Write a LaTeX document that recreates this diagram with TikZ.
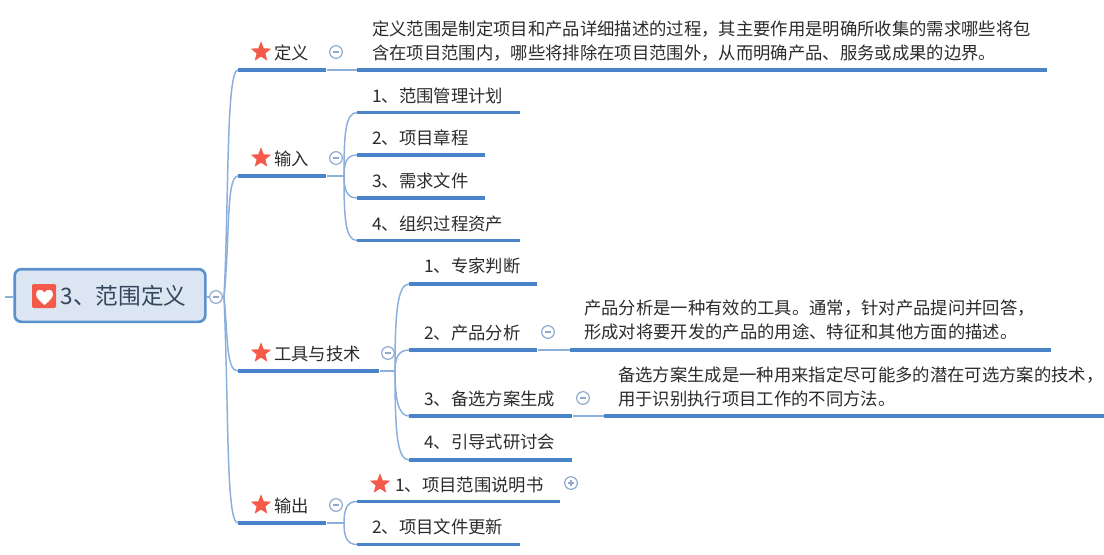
\documentclass[tikz,border=0pt]{standalone}
\usepackage{fontspec}
\setmainfont{Noto Sans CJK SC}
\usepackage{tikz}
\usetikzlibrary{shapes.geometric}
\definecolor{barblue}{HTML}{4A84C8}
\definecolor{linkblue}{HTML}{8BAEDD}
\definecolor{foldblue}{HTML}{8FA8CF}
\definecolor{rootfill}{HTML}{DCE6F2}
\definecolor{starred}{HTML}{F4594A}
\definecolor{inkgrey}{HTML}{2B2B2B}
\definecolor{rootink}{HTML}{34465C}

\begin{document}
\begin{tikzpicture}[x=0.75pt,y=-0.75pt,
				main bar/.style={rectangle,fill=barblue,anchor=west,inner sep=0pt,
					minimum height=2.4pt,minimum width=#1*0.75pt},
				main text/.style={anchor=west,inner sep=0pt,text=inkgrey,text height=11.2pt,text depth=1pt,
					font=\fontsize{13pt}{18pt}\selectfont},
				desc text/.style={anchor=west,inner sep=0pt,text=inkgrey,align=left,
					font=\fontsize{13pt}{18pt}\selectfont},
				star node/.style={star,star points=5,star point ratio=2.3,fill=starred,inner sep=0pt,minimum size=16pt},
				fold node/.style={circle,draw=foldblue,fill=white,line width=0.9pt,inner sep=0pt,minimum size=9.5pt,
					path picture={\draw[foldblue,line width=0.8pt] ([xshift=-2.3pt]path picture bounding box.center) -- ([xshift=2.3pt]path picture bounding box.center);}},
				branch/.style={draw=linkblue,line width=1.1pt}]
				\useasboundingbox (0,0) rectangle (1104,554);
				
				% root
				\node[rectangle,rounded corners=5pt,draw=barblue!90,fill=rootfill,line width=2pt,
					minimum width=143pt,minimum height=39.5pt,inner sep=0pt,text=rootink,
					font=\fontsize{17pt}{20pt}\selectfont] (root) at (110,295.5) {\hspace*{20.5pt}3、范围定义};
				\node[rectangle,rounded corners=1pt,fill=starred,minimum size=18pt,inner sep=0pt] (heart) at (44,296) {};
				\fill[white] (44.5,305) .. controls (39,300.5) and (36,297.5) .. (36,294) .. controls (36,289) and (42,288.5) .. (44.5,292.5) .. controls (47,288.5) and (53,289) .. (53,294) .. controls (53,297.5) and (50,300.5) .. (44.5,305) -- cycle;
				\coordinate (stub) at (5,297);
				\coordinate (hubR) at (224,297);
				\coordinate (hubI) at (344,176);
				\coordinate (hubT) at (395,371);
				\coordinate (hubO) at (344,523);
				
				% first level
				\node[main bar=88] (def) at (238,70) {};
				\node[main bar=88] (inp) at (238,176) {};
				\node[main bar=141] (tool) at (238,371) {};
				\node[main bar=88] (out) at (238,523) {};
				\node[main text] (defT) at (274,52.5) {定义};
				\node[main text] (inpT) at (274,158.5) {输入};
				\node[main text] (toolT) at (274,353.5) {工具与技术};
				\node[main text] (outT) at (274,505.5) {输出};
				\node[star node] (s1) at (261,52) {};
				\node[star node] (s2) at (261,158) {};
				\node[star node] (s3) at (261,353) {};
				\node[star node] (s4) at (261,505) {};
				
				% definition
				\node[main bar=690] (defD) at (357,70) {};
				\node[desc text] (defL) at (372,41) {定义范围是制定项目和产品详细描述的过程，其主要作用是明确所收集的需求哪些将包\\含在项目范围内，哪些将排除在项目范围外，从而明确产品、服务或成果的边界。};
				
				% inputs
				\node[main bar=163] (i1) at (357,112.5) {};
				\node[main bar=128] (i2) at (357,155) {};
				\node[main bar=128] (i3) at (357,198) {};
				\node[main bar=163] (i4) at (357,240.5) {};
				\node[main text] (i1T) at (372,95.5) {1、范围管理计划};
				\node[main text] (i2T) at (372,137.5) {2、项目章程};
				\node[main text] (i3T) at (372,180.5) {3、需求文件};
				\node[main text] (i4T) at (372,223.5) {4、组织过程资产};
				
				% tools
				\node[main bar=128] (t1) at (409,284) {};
				\node[main bar=128] (t2) at (409,350) {};
				\node[main bar=163] (t3) at (409,416) {};
				\node[main bar=163] (t4) at (409,460) {};
				\node[main text] (t1T) at (424,265.5) {1、专家判断};
				\node[main text] (t2T) at (424,332.5) {2、产品分析};
				\node[main text] (t3T) at (424,398.5) {3、备选方案生成};
				\node[main text] (t4T) at (424,441.5) {4、引导式研讨会};
				\node[main bar=481] (t2D) at (570,350) {};
				\node[main bar=500] (t3D) at (604,416) {};
				\node[desc text] (t2L) at (584,320) {产品分析是一种有效的工具。通常，针对产品提问并回答，\\形成对将要开发的产品的用途、特征和其他方面的描述。};
				\node[desc text] (t3L) at (618,387) {备选方案生成是一种用来指定尽可能多的潜在可选方案的技术，\\用于识别执行项目工作的不同方法。};
				
				% outputs
				\node[main bar=203] (o1) at (357,501.5) {};
				\node[main bar=163] (o2) at (357,544.5) {};
				\node[main text] (o1T) at (395,484.5) {1、项目范围说明书};
				\node[main text] (o2T) at (372,526.5) {2、项目文件更新};
				\node[star node] (s5) at (380,484) {};
				
				% connectors
				\path[branch]
				(stub) edge (stub -| root.west)
				(root.east |- hubR) edge (hubR)
				(def.east) edge (defD.west)
				(inp.east) edge (hubI)
				(tool.east) edge (hubT)
				(out.east) edge (hubO)
				(t2.east) edge (t2D.west)
				(t3.east) edge (t3D.west);
				\draw[branch] (hubR) .. controls +(5,-97) and +(-12,0) .. (def.west);
				\draw[branch] (hubR) .. controls +(6,-60) and +(-12,0) .. (inp.west);
				\draw[branch] (hubR) .. controls +(4,40) and +(-12,0) .. (tool.west);
				\draw[branch] (hubR) .. controls +(5,120) and +(-12,0) .. (out.west);
				\draw[branch] (hubI) .. controls +(0,-40) and +(-12,0) .. (i1.west);
				\draw[branch] (hubI) .. controls +(0,-14) and +(-10,0) .. (i2.west);
				\draw[branch] (hubI) .. controls +(0,14) and +(-10,0) .. (i3.west);
				\draw[branch] (hubI) .. controls +(0,40) and +(-12,0) .. (i4.west);
				\draw[branch] (hubT) .. controls +(0,-55) and +(-12,0) .. (t1.west);
				\draw[branch] (hubT) .. controls +(0,-14) and +(-10,0) .. (t2.west);
				\draw[branch] (hubT) .. controls +(0,30) and +(-10,0) .. (t3.west);
				\draw[branch] (hubT) .. controls +(0,60) and +(-12,0) .. (t4.west);
				\draw[branch] (hubO) .. controls +(0,-14) and +(-10,0) .. (o1.west);
				\draw[branch] (hubO) .. controls +(0,14) and +(-10,0) .. (o2.west);
				
				% fold marks
				\node[fold node] (f0) at (216,297) {};
				\node[fold node] (f1) at (336,52) {};
				\node[fold node] (f2) at (336,158) {};
				\node[fold node] (f3) at (388,353) {};
				\node[fold node] (f4) at (336,505) {};
				\node[fold node] (f5) at (548,332) {};
				\node[fold node] (f6) at (583,398) {};
				\node[circle,draw=foldblue,fill=white,line width=0.9pt,inner sep=0pt,minimum size=9.5pt,
					path picture={\draw[foldblue,line width=0.8pt] ([xshift=-2.3pt]path picture bounding box.center) -- ([xshift=2.3pt]path picture bounding box.center) ([yshift=-2.3pt]path picture bounding box.center) -- ([yshift=2.3pt]path picture bounding box.center);}] (f7) at (571,483) {};
			\end{tikzpicture}
\end{document}
